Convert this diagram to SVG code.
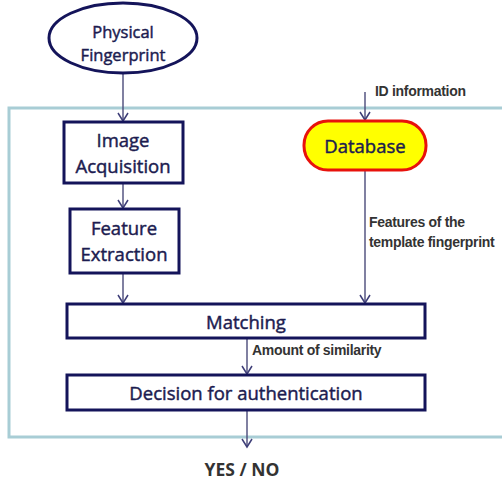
<svg xmlns="http://www.w3.org/2000/svg" width="502" height="481" viewBox="0 0 502 481">
<defs>
<marker id="ah" markerWidth="14" markerHeight="14" refX="11" refY="7" orient="auto" markerUnits="userSpaceOnUse" viewBox="0 0 14 14">
<path d="M3,2 L11,7 L3,12" fill="none" stroke="#3e3e78" stroke-width="1.5"/>
</marker>
<style>
.box{fill:#fff;stroke:#14145a;stroke-width:3}
.t{font-family:"Open Sans","DejaVu Sans",sans-serif;font-size:18.5px;fill:#1c1c50;stroke:#1c1c50;stroke-width:0.45px;text-anchor:middle}
.lbl{font-family:"Liberation Sans",Arial,sans-serif;font-weight:bold;font-size:14px;fill:#333;letter-spacing:-0.3px}
.c{fill:none;stroke:#4a4a7a;stroke-width:1.4;marker-end:url(#ah)}
</style>
</defs>
<rect x="0" y="0" width="502" height="481" fill="#fff"/>
<rect id="container" x="9" y="108" width="520" height="329" fill="none" stroke="#a8cdd5" stroke-width="3"/>
<g id="connectors">
<line class="c" x1="123" y1="74" x2="123" y2="121"/>
<line class="c" x1="123" y1="184" x2="123" y2="208"/>
<line class="c" x1="123" y1="274" x2="123" y2="303"/>
<line class="c" x1="365" y1="92" x2="365" y2="120"/>
<line class="c" x1="365" y1="171" x2="365" y2="303"/>
<line class="c" x1="247" y1="339" x2="247" y2="374"/>
<line class="c" x1="247" y1="411" x2="247" y2="447"/>
<text class="lbl" x="375" y="96">ID information</text>
<text class="lbl" x="369" y="227">Features of the</text>
<text class="lbl" x="369" y="247">template fingerprint</text>
<text class="lbl" x="252" y="355">Amount of similarity</text>
</g>
<g id="physical">
<ellipse cx="123" cy="38" rx="74" ry="35" fill="#fff" stroke="#14145a" stroke-width="3"/>
<text class="t" x="123" y="38" style="font-size:16.5px">Physical</text>
<text class="t" x="123" y="61" style="font-size:16.5px">Fingerprint</text>
</g>
<g id="acquisition">
<rect class="box" x="64" y="122" width="119" height="61"/>
<text class="t" x="123" y="147">Image</text>
<text class="t" x="123" y="173">Acquisition</text>
</g>
<g id="extraction">
<rect class="box" x="70" y="209" width="109" height="64"/>
<text class="t" x="124" y="235">Feature</text>
<text class="t" x="124" y="261">Extraction</text>
</g>
<g id="database">
<rect x="304" y="121" width="122" height="49" rx="24" fill="#ffff00" stroke="#e8120c" stroke-width="3"/>
<text class="t" x="365" y="153">Database</text>
</g>
<g id="matching">
<rect class="box" x="67" y="304" width="358" height="34"/>
<text class="t" x="246" y="329">Matching</text>
</g>
<g id="decision">
<rect class="box" x="67" y="375" width="358" height="35"/>
<text class="t" x="246" y="400">Decision for authentication</text>
</g>
<g id="result">
<text x="242" y="476" font-family="Open Sans, DejaVu Sans, sans-serif" font-weight="bold" font-size="17.5" fill="#333" text-anchor="middle">YES / NO</text>
</g>
</svg>
